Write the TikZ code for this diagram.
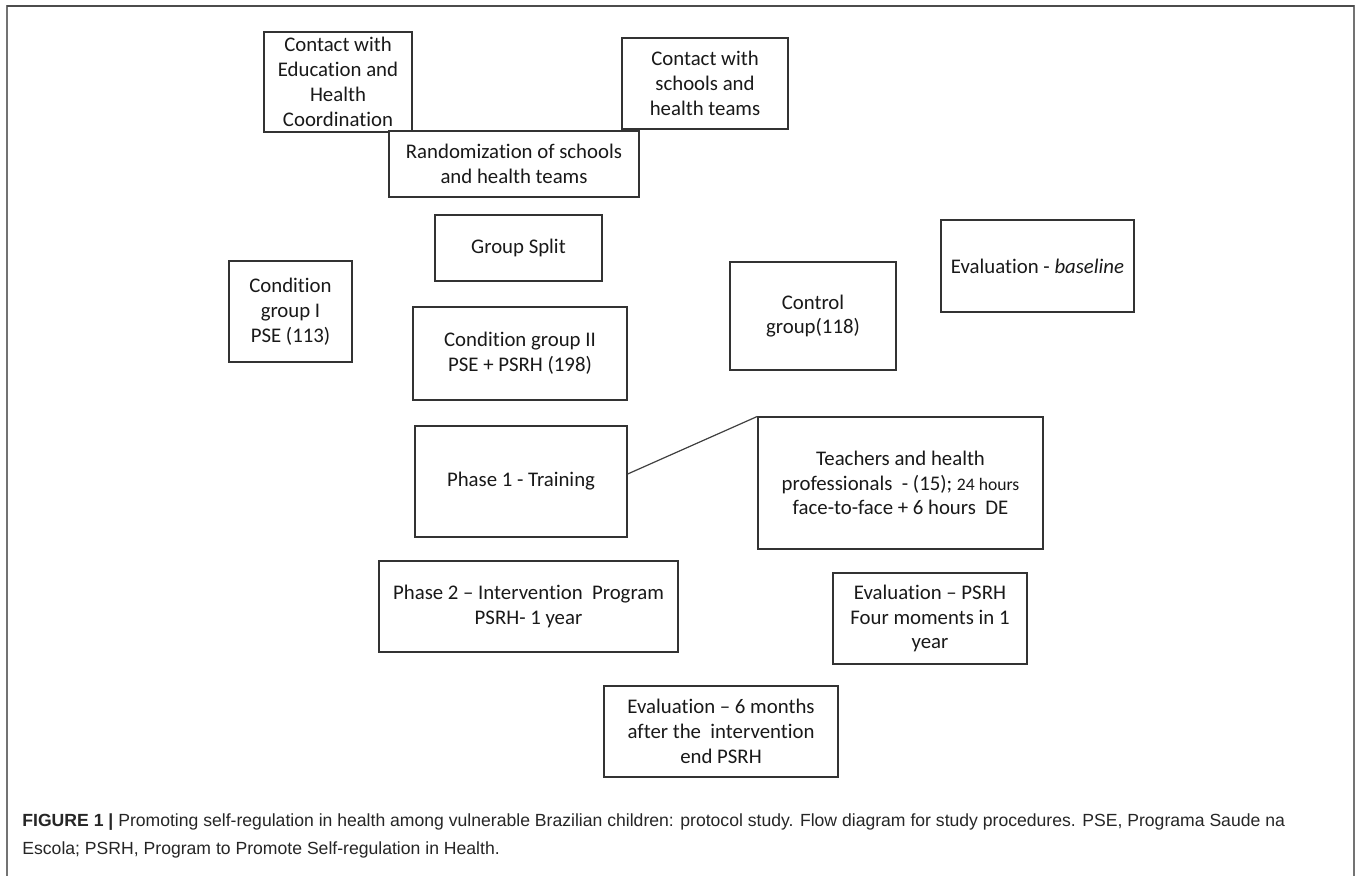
\documentclass[tikz,border=0pt]{standalone}
\usepackage{fontspec}
\setmainfont{Carlito}[Ligatures=NoCommon]
\newfontfamily\capfont{Liberation Sans}
\usetikzlibrary{calc}
\begin{document}
\begin{tikzpicture}[x=0.5pt,y=-0.5pt,
  box/.style={draw=black!80, line width=0.6pt, align=center, inner sep=0pt,
    font=\fontsize{10.4}{12.4}\selectfont, text=black!90},
  link/.style={draw=black!75, line width=0.6pt},
  frame/.style={draw=black!55, line width=1pt}
]
\useasboundingbox (0,0) rectangle (1358,875);
\fill[white] (0,0) rectangle (1358,875);
\draw[frame] (7,880) -- (7,6) -- (1354,6) -- (1354,880);
\draw[draw=black!70, line width=1pt] (7,6) -- (1354,6);

\node[box, minimum width=74pt, minimum height=50pt] (ceh) at (338,82) {Contact with\\Education and\\Health\\Coordination};
\node[box, minimum width=83pt, minimum height=45.5pt] (cst) at (705,83.5) {Contact with\\schools and\\health teams};
\node[box, minimum width=125pt, minimum height=33pt, fill=white] (rand) at (514,164) {Randomization of schools\\and health teams};
\node[box, minimum width=83.5pt, minimum height=33pt] (gs) at (518.5,248) {Group Split};
\node[box, minimum width=61.5pt, minimum height=50.5pt] (c1) at (290.5,311.5) {Condition\\group I\\PSE (113)};
\node[box, minimum width=107pt, minimum height=46.5pt] (c2) at (520,353.5) {Condition group II\\PSE + PSRH (198)};
\node[box, minimum width=83pt, minimum height=54pt] (ctrl) at (813,316) {Control\\group(118)};
\node[box, minimum width=96.5pt, minimum height=46pt] (evb) at (1037.5,266) {Evaluation - \textit{baseline}};
\node[box, minimum width=106pt, minimum height=55.5pt] (p1) at (521,481.5) {Phase 1 - Training};
\node[box, minimum width=142.5pt, minimum height=66pt] (tea) at (900.5,483) {Teachers and health\\professionals\ \ - (15); {\fontsize{8.8}{12.4}\selectfont 24 hours}\\face-to-face + 6 hours\ \ DE};
\node[box, minimum width=149.5pt, minimum height=45.5pt] (p2) at (528.5,606.5) {Phase 2 -- Intervention\ \ Program\\PSRH- 1 year};
\node[box, minimum width=97pt, minimum height=45.5pt] (evp) at (930,618.5) {Evaluation -- PSRH\\Four moments in 1\\year};
\node[box, minimum width=117pt, minimum height=45.5pt] (ev6) at (721,731.5) {Evaluation -- 6 months\\after the\ \ intervention\\end PSRH};

\draw[link] ($(p1.east)+(0,-7.5)$) -- (tea.north west);

\node[anchor=west, inner sep=0pt, align=left, text=black!85,
  font=\capfont\fontsize{8.8}{14}\selectfont] (cap) at (22,836)
  {\textbf{FIGURE 1 |} Promoting self-regulation in health among vulnerable Brazilian children: protocol study. Flow diagram for study procedures. PSE, Programa Saude na\\Escola; PSRH, Program to Promote Self-regulation in Health.};
\end{tikzpicture}
\end{document}
